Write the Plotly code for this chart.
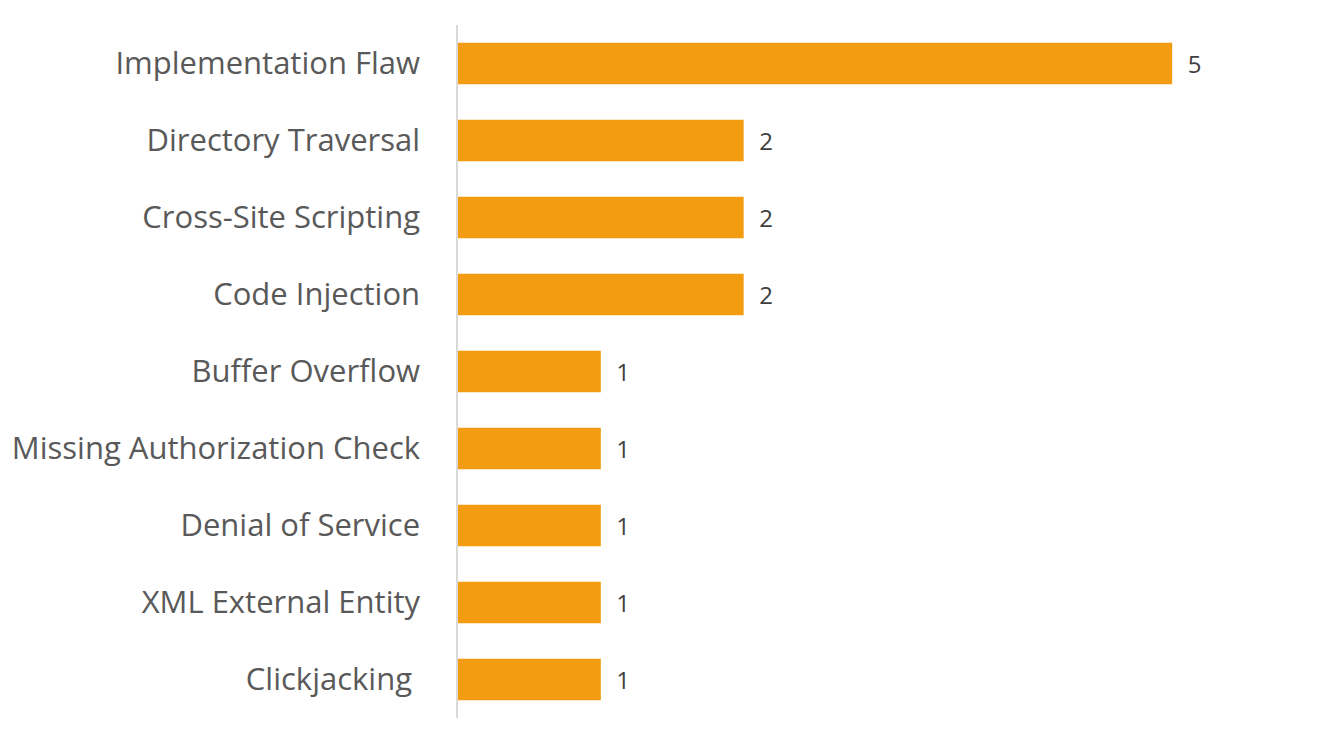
import plotly.graph_objects as go

categories = ["Implementation Flaw", "Directory Traversal", "Cross-Site Scripting",
              "Code Injection", "Buffer Overflow", "Missing Authorization Check",
              "Denial of Service", "XML External Entity", "Clickjacking "]
values = [5, 2, 2, 2, 1, 1, 1, 1, 1]

fig = go.Figure(go.Bar(
    y=categories, x=values, orientation="h",
    marker=dict(color="#F39C12", line=dict(width=0)),
    width=0.54,
    text=["\u00a0\u00a0" + str(v) for v in values], textposition="outside",
    textfont=dict(family="Open Sans", size=24, color="#404040"),
    constraintext="none",
    cliponaxis=False,
))

fig.update_layout(
    width=1342, height=743,
    margin=dict(l=456, r=27, t=25, b=25),
    plot_bgcolor="white", paper_bgcolor="white",
    showlegend=False,
    xaxis=dict(range=[0, 6], visible=False, fixedrange=True),
    yaxis=dict(autorange="reversed", showline=True, linecolor="#D9D9D9", linewidth=1.5,
               ticks="outside", ticklen=0, ticklabelstandoff=30,
               tickfont=dict(family="Open Sans", size=31, color="#595959"),
               showgrid=False, zeroline=False),
)

fig.write_html("out.html")
